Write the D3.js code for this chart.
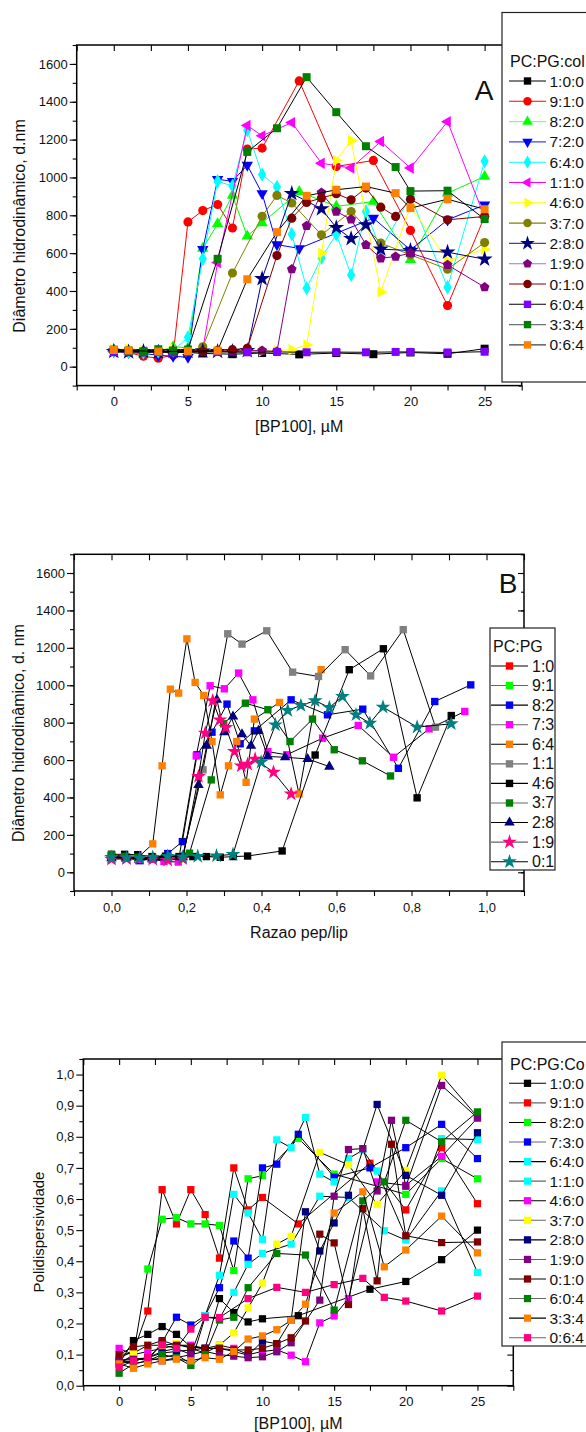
<!DOCTYPE html>
<html><head><meta charset="utf-8">
<script src="https://cdn.jsdelivr.net/npm/d3@7/dist/d3.min.js"></script>
<style>body{margin:0;background:#fff}svg{display:block}</style>
</head><body>
<script>
// ---------------- PANEL A DATA: [BP100] (µM) vs diameter (d.nm) ----------------
const A_names = ["1:0:0","9:1:0","8:2:0","7:2:0","6:4:0","1:1:0","4:6:0","3:7:0","2:8:0","1:9:0","0:1:0","6:0:4","3:3:4","0:6:4"];
const A_s1  = [[0,88],[1,82],[2,80],[3,78],[4,76],[5,75],[6,70],[8,66],[10,72],[12.5,65],[15,72],[17.5,66],[20,75],[22.5,68],[25,95]];
const A_s2  = [[0,85],[1,75],[2,55],[3,45],[4,60],[5,765],[6,825],[7,857],[8,733],[9,1150],[10,1155],[12.5,1510],[15,1058],[17.5,1090],[20,720],[22.5,323],[25,794]];
const A_s3  = [[0,90],[1,80],[2,70],[3,80],[4,105],[5,100],[6,625],[7,755],[8,905],[9,690],[10,760],[12.5,925],[15,847],[17.5,873],[20,565],[22.5,917],[25,1005]];
const A_s4  = [[0,80],[1,75],[2,70],[3,60],[4,55],[5,50],[6,620],[7,990],[8,980],[9,1065],[10,915],[11,645],[12.5,625],[17.5,785],[20,617],[22.5,776],[25,855]];
const A_s5  = [[0,85],[1,80],[2,75],[3,80],[4,85],[5,155],[6,570],[7,980],[8,955],[9,1250],[10,1015],[11,950],[12,700],[13,415],[14,575],[15,700],[16,485],[17,820],[18,620],[20,900],[22.5,420],[25,1085]];
const A_s6  = [[0,80],[1,80],[2,78],[3,80],[4,82],[5,85],[6,90],[7,550],[9,1275],[10,1220],[12,1290],[14,1075],[16,1050],[18,1190],[20,1050],[22.5,1295],[25,790]];
const A_s7  = [[0,90],[1,95],[2,85],[3,90],[4,95],[5,80],[6,85],[7,80],[8,85],[9,88],[10,82],[11,85],[12,90],[13,115],[14,600],[15,1090],[16,1195],[18,395],[20,850],[22.5,560],[25,620]];
const A_s8  = [[0,85],[1,80],[2,82],[3,80],[4,78],[5,80],[6,105],[8,495],[10,795],[11,905],[12,865],[14,697],[16,820],[18,653],[20,591],[22.5,515],[25,656]];
const A_s9  = [[0,80],[1,78],[2,80],[3,78],[4,80],[5,80],[6,82],[7,80],[8,80],[9,85],[10,465],[12,915],[14,834],[15,735],[16,677],[17,750],[18,621],[20,614],[22.5,605],[25,568]];
const A_s10 = [[0,80],[1,78],[2,80],[3,78],[4,80],[5,82],[6,80],[7,82],[8,80],[9,85],[10,85],[11,80],[12,515],[13,744],[14,920],[15,820],[16,779],[17,644],[18,573],[19,582],[20,600],[22.5,538],[25,420]];
const A_s11 = [[0,82],[1,80],[2,78],[3,80],[4,82],[5,85],[6,80],[7,85],[8,90],[9,97],[11,587],[12,785],[13,868],[14,891],[15,914],[16,882],[17,944],[18,843],[19,794],[20,885],[22.5,776],[25,794]];
const A_s12 = [[0,78],[1,80],[2,76],[3,78],[4,75],[5,77],[7,78],[9,76],[11,78],[13,76],[15,77],[17,76],[19,78],[20,78],[22.5,75],[25,79]];
const A_s13 = [[0,90],[1,85],[2,80],[3,92],[4,85],[5,90],[7,570],[9,1135],[11,1260],[13,1530],[15,1345],[17,1165],[19,1055],[20,928],[22.5,930],[25,780]];
const A_s14 = [[0,88],[1,86],[3,80],[5,82],[7,85],[9,462],[11,711],[13,903],[15,935],[17,952],[19,917],[20,838],[22.5,885],[25,832]];
const A_data = [A_s1,A_s2,A_s3,A_s4,A_s5,A_s6,A_s7,A_s8,A_s9,A_s10,A_s11,A_s12,A_s13,A_s14];
const A_colors = ["#000000","#ff0000","#00ff00","#0000ff","#00ffff","#ff00ff","#ffff00","#808000","#000080","#800080","#800000","#8000ff","#008000","#ff8000"];
const A_lineColors = ["#000000","#ff0000","#00ff00","#0000ff","#00ffff","#ff00ff","#ffff00","#808000","#000080","#800080","#800000","#000000","#000000","#000000"];
const A_legLine = ["#000000","#ff0000","#80ff80","#4040ff","#00ffff","#ff00ff","#ffff00","#808000","#4040a0","#b070b0","#800000","#000000","#707070","#404040"];
const A_shapes = ["square","circle","triUp","triDown","diamond","triLeft","triRight","circle","star","pentagon","circle","square","square","square"];
const A_xTicks = [0,5,10,15,20,25];
const A_yTicks = [0,200,400,600,800,1000,1200,1400,1600];

// ---------------- PANEL B DATA: pep/lip ratio vs diameter ----------------
const B_names = ["1:0","9:1","8:2","7:3","6:4","1:1","4:6","3:7","2:8","1:9","0:1"];
const B_s1  = [[0,80],[0.04,75],[0.07,70],[0.11,72],[0.15,68],[0.18,75]];
const B_s2  = [[0,85],[0.035,78],[0.07,72],[0.11,70],[0.14,74],[0.18,70]];
const B_s3  = [[0,85],[0.04,80],[0.075,62],[0.11,72],[0.15,100],[0.189,164],[0.228,628],[0.268,749],[0.308,899],[0.343,687],[0.381,756],[0.479,922],[0.576,842],[0.67,872],[0.765,556],[0.862,913],[0.958,1002]];
const B_s4  = [[0,80],[0.035,75],[0.07,70],[0.105,72],[0.14,58],[0.178,55],[0.226,622],[0.263,997],[0.301,981],[0.339,1065],[0.377,922],[0.417,645],[0.467,628],[0.563,717],[0.658,785],[0.752,615],[0.847,767],[0.942,860]];
const B_s5  = [[0,85],[0.035,80],[0.07,78],[0.11,152],[0.135,569],[0.157,979],[0.179,958],[0.201,1248],[0.223,1015],[0.246,945],[0.268,699],[0.29,414],[0.312,569],[0.334,699],[0.359,481],[0.381,819],[0.448,908],[0.5,419],[0.559,1083]];
const B_s6  = [[0,90],[0.04,82],[0.075,75],[0.11,80],[0.15,85],[0.19,90],[0.244,548],[0.31,1275],[0.348,1220],[0.414,1291],[0.483,1070],[0.552,1047],[0.623,1190],[0.691,1050],[0.778,1297],[0.864,776]];
const B_s7  = [[0,96],[0.035,96],[0.07,94],[0.108,84],[0.144,86],[0.18,84],[0.217,84],[0.253,84],[0.29,80],[0.325,84],[0.363,87],[0.455,114],[0.543,627],[0.634,1083],[0.725,1195],[0.815,398],[0.906,838]];
const B_s8  = [[0,95],[0.035,85],[0.07,80],[0.11,75],[0.15,80],[0.208,102],[0.266,494],[0.299,794],[0.357,904],[0.417,869],[0.476,699],[0.536,819],[0.594,655],[0.669,596],[0.744,515]];
const B_s9  = [[0,75],[0.04,78],[0.075,80],[0.11,75],[0.15,82],[0.19,80],[0.232,467],[0.254,676],[0.281,922],[0.301,749],[0.324,833],[0.348,738],[0.372,676],[0.392,756],[0.417,619],[0.463,615],[0.523,606],[0.581,565]];
const B_s10 = [[0,70],[0.04,72],[0.075,75],[0.11,70],[0.15,65],[0.19,72],[0.232,512],[0.25,744],[0.27,917],[0.289,815],[0.305,774],[0.328,646],[0.346,569],[0.363,578],[0.383,605],[0.432,535],[0.479,419]];
const B_s11 = [[0,80],[0.04,78],[0.075,75],[0.11,80],[0.15,85],[0.19,82],[0.23,85],[0.28,88],[0.324,96],[0.399,589],[0.437,788],[0.47,865],[0.505,892],[0.543,917],[0.581,881],[0.616,940],[0.652,842],[0.689,797],[0.724,883],[0.815,776],[0.906,794]];
const B_data = [B_s1,B_s2,B_s3,B_s4,B_s5,B_s6,B_s7,B_s8,B_s9,B_s10,B_s11];
const B_colors = ["#ff0000","#00ff00","#0000ff","#ff00ff","#ff8000","#808080","#000000","#008000","#000080","#ff0080","#008080"];
const B_shapes = ["square","square","square","square","square","square","square","square","triUp","star","star"];
const B_xTicks = [0,0.2,0.4,0.6,0.8,1.0];
const B_yTicks = [0,200,400,600,800,1000,1200,1400,1600];

// ---------------- PANEL C DATA: [BP100] (µM) vs polydispersity ----------------
const C_names = ["1:0:0","9:1:0","8:2:0","7:3:0","6:4:0","1:1:0","4:6:0","3:7:0","2:8:0","1:9:0","0:1:0","6:0:4","3:3:4","0:6:4"];
const C_s1  = [[0,0.07],[1,0.145],[2,0.165],[3,0.19],[4,0.165],[5,0.125],[6,0.12],[7,0.28],[8,0.235],[9,0.205],[10,0.215],[12.5,0.225],[17.5,0.31],[20,0.335],[22.5,0.405],[25,0.5]];
const C_s2  = [[0,0.09],[1,0.11],[2,0.24],[3,0.63],[4,0.52],[5,0.63],[6,0.55],[7,0.41],[8,0.7],[9,0.565],[10,0.605],[12.5,0.52],[17.5,0.715],[20,0.565],[22.5,0.765],[25,0.585]];
const C_s3  = [[0,0.07],[1,0.1],[2,0.375],[3,0.535],[4,0.54],[5,0.52],[6,0.52],[7,0.515],[8,0.37],[9,0.665],[10,0.675],[12.5,0.795],[15,0.68],[20,0.615],[22.5,0.73],[25,0.665]];
const C_s4  = [[0,0.08],[1,0.09],[2,0.08],[3,0.14],[4,0.22],[5,0.195],[6,0.225],[7,0.315],[8,0.465],[9,0.41],[10,0.7],[11,0.712],[12.5,0.808],[15,0.67],[17.5,0.7],[20,0.765],[22.5,0.84],[25,0.73]];
const C_s5  = [[0,0.07],[1,0.08],[2,0.09],[3,0.11],[4,0.12],[5,0.1],[6,0.225],[7,0.355],[8,0.615],[9,0.555],[10,0.47],[11,0.79],[12,0.765],[13,0.862],[14,0.68],[15,0.655],[16,0.73],[17,0.757],[18,0.69],[20,0.478],[22.5,0.794],[25,0.791]];
const C_s6  = [[0,0.08],[1,0.07],[2,0.08],[3,0.09],[4,0.1],[5,0.07],[6,0.22],[7,0.215],[8,0.3],[9,0.39],[10,0.425],[12,0.455],[14,0.609],[16,0.605],[18.5,0.498],[20,0.468],[22.5,0.626],[25,0.364]];
const C_s7  = [[0,0.12],[1,0.1],[2,0.11],[3,0.12],[4,0.13],[5,0.13],[6,0.12],[7,0.13],[8,0.12],[9,0.1],[10,0.11],[11,0.115],[12,0.098],[13,0.077],[14,0.202],[15,0.224],[16,0.28],[18,0.655],[20,0.644],[22.5,0.737],[25,0.86]];
const C_s8  = [[0,0.1],[1,0.105],[2,0.13],[3,0.13],[4,0.135],[5,0.12],[6,0.105],[7,0.13],[8,0.17],[9,0.25],[10,0.33],[11,0.455],[12,0.48],[14,0.75],[16,0.71],[18,0.583],[20,0.692],[22.5,0.998],[25,0.864]];
const C_s9  = [[0,0.075],[1,0.08],[2,0.09],[3,0.105],[4,0.11],[5,0.115],[6,0.12],[7,0.12],[8,0.11],[9,0.098],[10,0.143],[11,0.135],[12,0.211],[13,0.559],[14,0.433],[15,0.523],[16,0.612],[18,0.904],[20,0.676],[22.5,0.612],[25,0.813]];
const C_s10 = [[0,0.08],[1,0.085],[2,0.09],[3,0.08],[4,0.09],[5,0.1],[6,0.11],[7,0.1],[8,0.095],[9,0.09],[10,0.093],[11,0.109],[12,0.138],[14,0.275],[15,0.609],[16,0.759],[17,0.762],[18,0.626],[19,0.853],[20,0.641],[22.5,0.965],[25,0.861]];
const C_s11 = [[0,0.1],[1,0.125],[2,0.13],[3,0.145],[4,0.13],[5,0.125],[6,0.12],[7,0.12],[8,0.115],[9,0.115],[10,0.12],[11,0.135],[12,0.154],[13,0.208],[14,0.487],[15,0.459],[16,0.261],[17,0.569],[18,0.337],[19,0.776],[20,0.482],[22.5,0.46],[25,0.462]];
const C_s12 = [[0,0.04],[1,0.07],[2,0.08],[3,0.1],[4,0.09],[5,0.065],[6,0.1],[7,0.211],[8,0.22],[9,0.315],[11,0.425],[13,0.42],[15,0.243],[17,0.594],[18.5,0.655],[20,0.853],[22.5,0.784],[25,0.88]];
const C_s13 = [[0,0.07],[1,0.056],[2,0.07],[3,0.08],[4,0.085],[5,0.08],[6,0.09],[7,0.085],[8,0.11],[9,0.15],[10,0.16],[11,0.18],[12,0.21],[13,0.262],[15,0.555],[17,0.623],[18.5,0.382],[20,0.436],[22.5,0.545],[25,0.427]];
const C_s14 = [[0,0.06],[1,0.08],[2,0.09],[3,0.131],[4,0.12],[5,0.182],[6,0.22],[7,0.219],[9,0.28],[11,0.316],[13,0.3],[15,0.325],[17,0.345],[18.5,0.284],[20,0.272],[22.5,0.24],[25,0.288]];
const C_data = [C_s1,C_s2,C_s3,C_s4,C_s5,C_s6,C_s7,C_s8,C_s9,C_s10,C_s11,C_s12,C_s13,C_s14];
const C_colors = ["#000000","#ff0000","#00ff00","#0000ff","#00ffff","#00ffff","#ff00ff","#ffff00","#000080","#800080","#800000","#008000","#ff8000","#ff0080"];
const C_xTicks = [0,5,10,15,20,25];
const C_yTicks = [0,0.1,0.2,0.3,0.4,0.5,0.6,0.7,0.8,0.9,1.0];

// ---------------- drawing ----------------
const FONT = '"Liberation Sans", Arial, Helvetica, sans-serif';
const svg = d3.select("body").append("svg").attr("width",586).attr("height",1432)
  .style("font-family",FONT);

const pentagon = { draw(ctx,size){ const r=Math.sqrt(size/2.378);
  for(let i=0;i<5;i++){const a=-Math.PI/2+i*2*Math.PI/5; const px=r*Math.cos(a),py=r*Math.sin(a); if(i) ctx.lineTo(px,py); else ctx.moveTo(px,py);} ctx.closePath(); } };
const symTypes = {square:d3.symbolSquare,circle:d3.symbolCircle,triUp:d3.symbolTriangle,triDown:d3.symbolTriangle,
  triLeft:d3.symbolTriangle,triRight:d3.symbolTriangle,diamond:d3.symbolDiamond,star:d3.symbolStar,pentagon:pentagon};
const symRot = {triDown:180,triLeft:-90,triRight:90};
const symSize = {square:64,circle:66,triUp:56,triDown:56,triLeft:56,triRight:56,diamond:60,star:80,pentagon:62};
function marker(g,shape,x,y,color,scale){
  g.append("path").attr("d",d3.symbol().type(symTypes[shape]).size(symSize[shape]*(scale||1))())
   .attr("transform",`translate(${x},${y}) rotate(${symRot[shape]||0})`)
   .attr("fill",color);
}
const commaFmt = d=>d3.format(".1f")(d).replace(".",",");

function frame(xs,ys,o){
  const g=svg.append("g");
  const [xl,xr]=xs.range(), [yb,yt]=ys.range();
  const clean=s=>{s.select(".domain").remove(); s.selectAll("line").attr("stroke","#000").attr("stroke-width",1.1);
    s.selectAll("text").attr("font-size",13).attr("font-family",FONT).attr("fill","#111");};
  const isLab=d=>o.xLabels.some(v=>Math.abs(v-d)<1e-9);
  g.append("g").attr("transform",`translate(0,${yb})`)
   .call(d3.axisBottom(xs).tickValues(o.xAll).tickSize(5).tickPadding(o.xPad).tickFormat(d=>isLab(d)?o.xFmt(d):"")).call(clean);
  g.append("g").attr("transform",`translate(0,${yt})`)
   .call(d3.axisBottom(xs).tickValues(o.xAll).tickSize(6).tickFormat("")).call(clean);
  g.append("g").attr("transform",`translate(${xl},0)`)
   .call(d3.axisLeft(ys).tickValues(o.yMajor).tickSize(7).tickPadding(2).tickFormat(o.yFmt)).call(clean);
  g.append("g").attr("transform",`translate(${xl},0)`)
   .call(d3.axisLeft(ys).tickValues(o.yMinor).tickSize(4).tickFormat("")).call(clean);
  g.append("g").attr("transform",`translate(${xr},0)`)
   .call(d3.axisLeft(ys).tickValues(o.yMajor).tickSize(6).tickFormat("")).call(clean);
  g.append("g").attr("transform",`translate(${xr},0)`)
   .call(d3.axisLeft(ys).tickValues(o.yMinor).tickSize(3).tickFormat("")).call(clean);
  g.append("rect").attr("x",xl).attr("y",yt).attr("width",xr-xl).attr("height",yb-yt)
   .attr("fill","none").attr("stroke","#000").attr("stroke-width",1.5);
  g.append("text").attr("transform",`translate(${o.yTitleX},${o.yTitleY}) rotate(-90)`).attr("text-anchor","middle")
   .attr("dominant-baseline","central").attr("font-size",o.yTitleSize).attr("fill","#111").text(o.yTitle);
  g.append("text").attr("x",(xl+xr)/2).attr("y",o.xTitleY).attr("text-anchor","middle").attr("dominant-baseline","central")
   .attr("font-size",16).attr("fill","#111").text(o.xTitle);
}

function series(xs,ys,data,colors,lineColors,shapes,scale){
  const line=d3.line().x(d=>xs(d[0])).y(d=>ys(d[1]));
  data.forEach((s,i)=>{
    const g=svg.append("g");
    g.append("path").attr("d",line(s)).attr("fill","none").attr("stroke",lineColors[i]).attr("stroke-width",1);
    s.forEach(d=>marker(g,shapes[i],xs(d[0]),ys(d[1]),colors[i],scale));
  });
}

function legend(o){
  const g=svg.append("g");
  g.append("rect").attr("x",o.x).attr("y",o.y).attr("width",o.w).attr("height",o.h).attr("fill","#fff")
   .attr("stroke","#222").attr("stroke-width",1.2);
  g.append("text").attr("x",o.tx).attr("y",o.titleY).attr("dominant-baseline","central").attr("font-size",16)
   .attr("fill","#111").text(o.title);
  o.names.forEach((n,i)=>{
    const y=o.y0+i*o.dy;
    g.append("line").attr("x1",o.l1).attr("x2",o.l2).attr("y1",y).attr("y2",y).attr("stroke",o.lineCols[i]).attr("stroke-width",1.1);
    marker(g,o.shapes[i],(o.l1+o.l2)/2,y,o.colors[i],o.scale);
    g.append("text").attr("x",o.textX).attr("y",y).attr("dominant-baseline","central").attr("font-size",o.fs||16)
     .attr("fill","#111").text(n);
  });
}

const range=(a,b,s)=>d3.range(Math.round((b-a)/s)+1).map(i=>+(a+i*s).toFixed(6));

// ===== Panel A =====
const xA=d3.scaleLinear().domain([-2.5,27.5]).range([76.7,521.7]);
const yA=d3.scaleLinear().domain([-100,1700]).range([385.6,45]);
frame(xA,yA,{xAll:range(-2.5,27.5,2.5),xLabels:A_xTicks,xFmt:d3.format("d"),xPad:6,
  yMajor:A_yTicks,yMinor:range(-100,1700,100),yFmt:d3.format("d"),
  yTitle:"Diâmetro hidrodinâmico, d.nm",yTitleX:19,yTitleY:226,yTitleSize:16,xTitle:"[BP100], µM",xTitleY:426});
series(xA,yA,A_data,A_colors,A_lineColors,A_shapes,1);
svg.append("text").attr("x",484).attr("y",100).attr("text-anchor","middle").attr("font-size",28).attr("fill","#111").text("A");
legend({x:502,y:12.5,w:100,h:369.5,tx:510,titleY:61,title:"PC:PG:col",names:A_names,y0:81,dy:20.3,
  l1:509,l2:546,textX:549.5,fs:15.5,lineCols:A_legLine,colors:A_colors,shapes:A_shapes,scale:0.85});

// ===== Panel B =====
const xB=d3.scaleLinear().domain([-0.1,1.1]).range([74,524]);
const yB=d3.scaleLinear().domain([-100,1700]).range([891,554.3]);
frame(xB,yB,{xAll:range(-0.1,1.1,0.1),xLabels:B_xTicks,xFmt:commaFmt,xPad:7,
  yMajor:B_yTicks,yMinor:range(-100,1700,100),yFmt:d3.format("d"),
  yTitle:"Diâmetro hidrodinâmico, d. nm",yTitleX:18,yTitleY:733,yTitleSize:16,xTitle:"Razao pep/lip",xTitleY:932});
series(xB,yB,B_data,B_colors,B_data.map(()=>"#000"),B_shapes,0.85);
svg.append("text").attr("x",508).attr("y",593).attr("text-anchor","middle").attr("font-size",28).attr("fill","#111").text("B");
legend({x:490,y:628,w:65,h:242,tx:493,titleY:646,title:"PC:PG",names:B_names,y0:666,dy:19.57,
  l1:491,l2:528,textX:532,lineCols:B_names.map((_,i)=>i%2?"#666":"#000"),colors:B_colors,shapes:B_shapes,scale:0.85});

// ===== Panel C =====
const xC=d3.scaleLinear().domain([-2.5,27.5]).range([83.3,513.3]);
const yC=d3.scaleLinear().domain([0,1.05]).range([1385.7,1059]);
frame(xC,yC,{xAll:range(-2.5,27.5,2.5),xLabels:C_xTicks,xFmt:d3.format("d"),xPad:6,
  yMajor:C_yTicks,yMinor:range(0.05,1.05,0.1),yFmt:commaFmt,
  yTitle:"Polidispersividade",yTitleX:38,yTitleY:1232,yTitleSize:15,xTitle:"[BP100], µM",xTitleY:1423});
series(xC,yC,C_data,C_colors,C_data.map(()=>"#000"),C_names.map(()=>"square"),0.82);
legend({x:502,y:1042,w:100,h:304,tx:510,titleY:1064,title:"PC:PG:Co",names:C_names,y0:1083.3,dy:19.57,
  l1:509,l2:546,textX:549.5,fs:15.5,lineCols:C_names.map((_,i)=>i%2?"#666":"#000"),colors:C_colors,shapes:C_names.map(()=>"square"),scale:0.82});
</script>
</body></html>
